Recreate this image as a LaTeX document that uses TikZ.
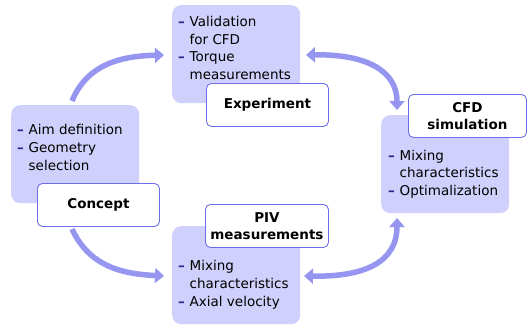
\documentclass[tikz,border=0pt]{standalone}
\usepackage{fontspec}
\setmainfont{DejaVu Sans}
\usetikzlibrary{arrows.meta}
\definecolor{boxfill}{RGB}{208,208,252}
\definecolor{arrowcol}{RGB}{150,150,240}
\definecolor{labline}{RGB}{110,110,235}
\definecolor{bulcol}{RGB}{40,40,140}
\newcommand{\dd}{\makebox[11.5pt][l]{\color{bulcol}\bfseries –}}
\newcommand{\ind}{\hspace*{11.5pt}}
\tikzset{
  bigbox/.style={fill=boxfill, rounded corners=9pt, anchor=north west, inner sep=0pt, minimum width=128pt, minimum height=98pt},
  labbox/.style={draw=labline, line width=0.9pt, fill=white, rounded corners=5pt, anchor=north west, inner sep=0pt, minimum height=43pt},
  labtext/.style={font=\fontsize{13.5}{17}\selectfont\bfseries, align=center},
  listtext/.style={anchor=base west, inner sep=0pt, font=\fontsize{13.5}{18}\selectfont},
  flow/.style={draw=arrowcol, line width=5.5pt, -{Triangle[length=9pt,width=15pt]}},
  flow2/.style={draw=arrowcol, line width=5.5pt, {Triangle[length=9pt,width=15pt]}-{Triangle[length=9pt,width=15pt]}},
}
\begin{document}
\begin{tikzpicture}[x=1pt,y=-1pt]
\useasboundingbox (0,0) rectangle (527,329);
% big boxes
\node[bigbox] (cbox) at (11,105) {};
\node[bigbox] (ebox) at (172,5) {};
\node[bigbox] (fbox) at (381,115) {};
\node[bigbox] (pbox) at (172,226) {};
% list texts
\node[listtext] (ctext) at (17,134) {\vtop{\baselineskip=18pt\hbox{\dd Aim definition}\hbox{\dd Geometry}\hbox{\ind selection}}};
\node[listtext] (etext) at (178,26.5) {\vtop{\baselineskip=17.6pt\hbox{\dd Validation}\hbox{\ind for CFD}\hbox{\dd Torque}\hbox{\ind measurements}}};
\node[listtext] (ftext) at (388,160) {\vtop{\baselineskip=17.6pt\hbox{\dd Mixing}\hbox{\ind characteristics}\hbox{\dd Optimalization}}};
\node[listtext] (ptext) at (178,270) {\vtop{\baselineskip=18pt\hbox{\dd Mixing}\hbox{\ind characteristics}\hbox{\dd Axial velocity}}};
% labels
\node[labbox, minimum width=122pt] (clab) at (37,183) {};
\node[labtext] at (clab.center) {Concept};
\node[labbox, minimum width=122pt] (elab) at (206,83) {};
\node[labtext] at (elab.center) {Experiment};
\node[labbox, minimum width=118pt] (flab) at (408,94) {};
\node[labtext] at (flab.center) {CFD\\simulation};
\node[labbox, minimum width=123pt] (plab) at (205,204) {};
\node[labtext] at (plab.center) {PIV\\measurements};
% connector endpoints
\coordinate (a1s) at (72,101);
\coordinate (a1e) at (164,55);
\coordinate (a2s) at (306,55);
\coordinate (a2e) at (397,110);
\coordinate (a3s) at (72,229);
\coordinate (a3e) at (164,276);
\coordinate (a4s) at (304,276);
\coordinate (a4e) at (397,218);
\draw[flow] (a1s) .. controls (88,62) and (125,56) .. (a1e);
\draw[flow2] (a2s) .. controls (365,54) and (397,70) .. (a2e);
\draw[flow] (a3s) .. controls (90,268) and (125,274) .. (a3e);
\draw[flow2] (a4s) .. controls (365,277) and (397,262) .. (a4e);
\end{tikzpicture}
\end{document}
